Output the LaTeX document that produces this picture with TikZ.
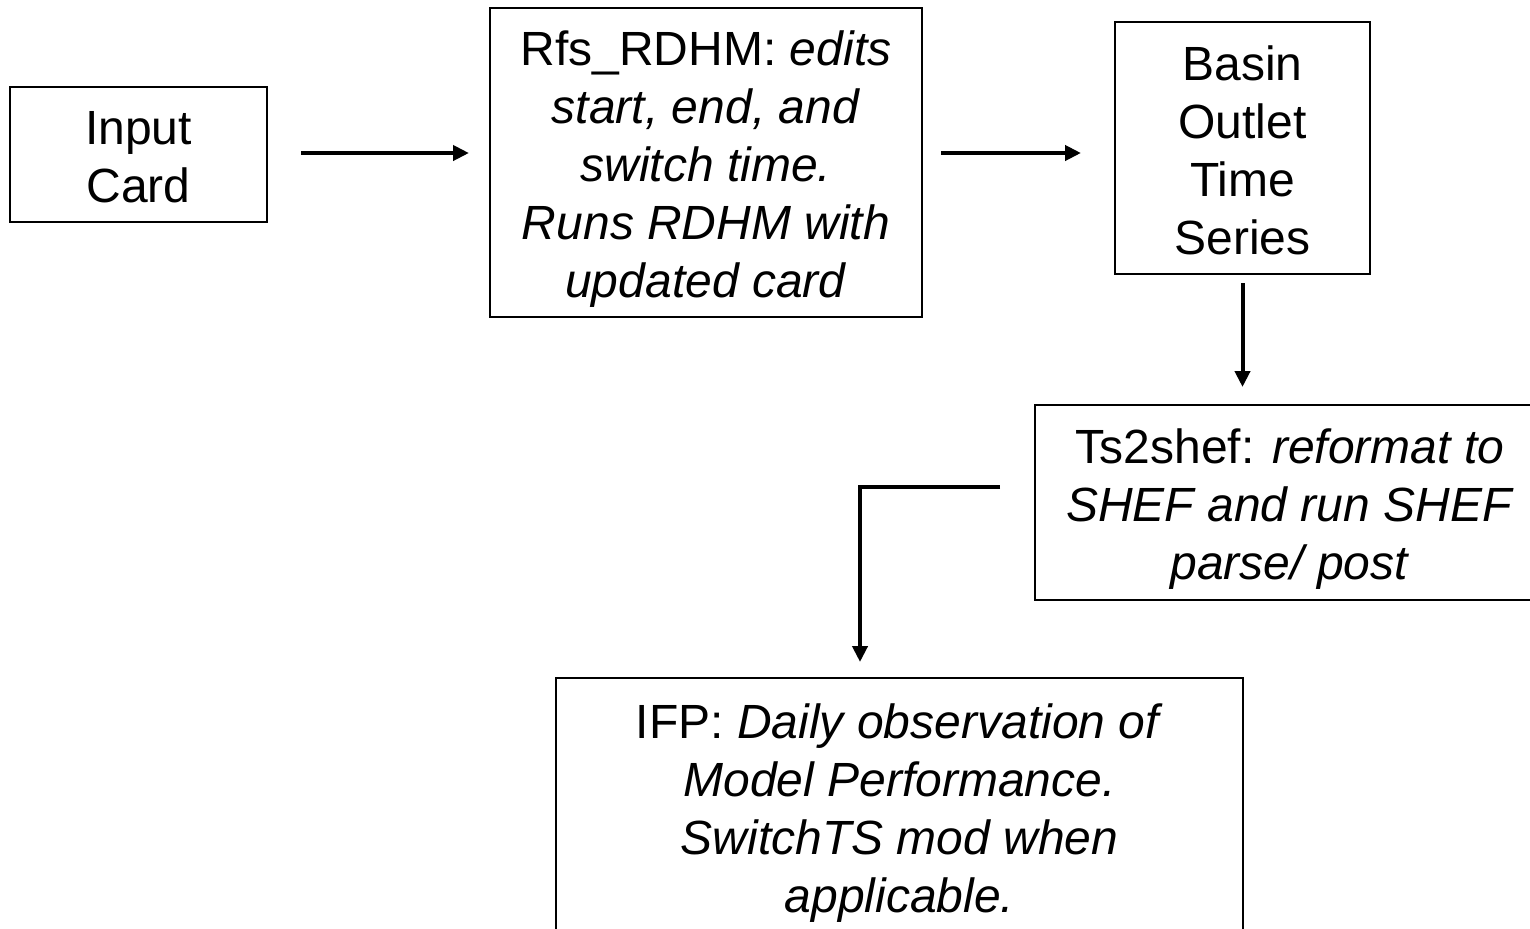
\documentclass[tikz,border=0pt]{standalone}
\usepackage{fontspec}
\setmainfont{Liberation Sans}
\usetikzlibrary{arrows.meta}
\newcommand{\boxtext}[1]{\raisebox{-3.75pt}[\height][\depth]{\begin{tabular}{@{}c@{}}#1\end{tabular}}}
\tikzset{
  box/.style={draw=black, line width=1pt, inner sep=0pt, font=\fontsize{24}{29}\selectfont},
  arr/.style={line width=2pt, -{Triangle[length=8pt,width=7.5pt]}},
}
\begin{document}
\begin{tikzpicture}[x=0.5pt,y=-0.5pt]
\useasboundingbox (0,0) rectangle (1530,928);
\clip (0,0) rectangle (1530,928);
\node[box, minimum width=128.5pt, minimum height=67.5pt] (in) at (138.5,154.5) {\boxtext{Input\\Card}};
\node[box, minimum width=216pt, minimum height=154.5pt] (rfs) at (706,162.5) {\boxtext{Rfs\_RDHM: \textit{edits}\\\textit{start, end, and}\\\textit{switch time.}\\\textit{Runs RDHM with}\\\textit{updated card}}};
\node[box, minimum width=127.5pt, minimum height=126pt] (bas) at (1242.5,148) {\boxtext{Basin\\Outlet\\Time\\Series}};
\node[box, minimum width=255pt, minimum height=97.5pt] (ts) at (1290,502.5) {\boxtext{Ts2shef: \textit{reformat to}\\\textit{SHEF and run SHEF}\\\textit{parse/ post}}};
\node[box, minimum width=343.5pt, minimum height=128pt] (ifp) at (899.5,806) {\boxtext{IFP: \textit{Daily observation of}\\\textit{Model Performance.}\\\textit{SwitchTS mod when}\\\textit{applicable.}}};
\coordinate (ts1) at (1000,487);
\coordinate (corner) at (860,487);
\coordinate (ifpin) at (860,662);
\draw[arr, shorten <=16.5pt, shorten >=10pt] (in.east |- 0,153) -- (rfs.west |- 0,153);
\draw[arr, shorten <=9pt, shorten >=16.5pt] (rfs.east |- 0,153) -- (bas.west |- 0,153);
\draw[arr, shorten <=4pt, shorten >=8.5pt] (bas.south) -- (ts.north -| bas.south);
\draw[arr] (ts1) -- (corner) -- (ifpin);
\end{tikzpicture}
\end{document}
